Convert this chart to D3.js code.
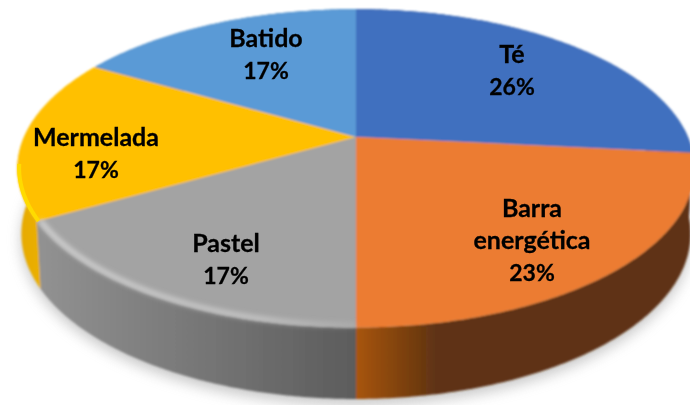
<!DOCTYPE html>
<html><head><meta charset="utf-8">
<script src="https://cdn.jsdelivr.net/npm/d3@7"></script>
<style>html,body{margin:0;padding:0;background:#fff;overflow:hidden}svg{display:block}</style>
</head><body><svg id="c" width="690" height="405"></svg>
<script>
const categories = ["Té","Barra energética","Pastel","Mermelada","Batido"];
// printed percentages
const percentLabels = ["26%","23%","17%","17%","17%"];
const sliceShares = [26.6,23.4,16.7,16.7,16.6];
const labelLines = [["Té"],["Barra","energética"],["Pastel"],["Mermelada"],["Batido"]];
const topColors = ["#4170bf","#ec7c30","#a3a3a3","#ffc000","#5a9ad6"];
const sideStops = [["#2c4f8c","#2c4f8c"],["#a85510","#5f3312"],["#929292","#5c5c5c"],["#e6a900","#f5c000"],["#3f76aa","#3f76aa"]];

// layout
const W=690,H=405,cx=356,cy=137,rx=332,ry=153,k=0.197,depth=64;
const labelPos=[[512,55],[532,209],[226,244],[96,138],[266,39]];
const lineH=32.5;

const svg=d3.select("#c");
const defs=svg.append("defs");
const blur=(id,s)=>defs.append("filter").attr("id",id).attr("x","-10%").attr("y","-10%").attr("width","120%").attr("height","130%")
  .append("feGaussianBlur").attr("stdDeviation",s);
blur("soft",0.8);blur("shadow",7);blur("bevel",2.5);blur("txt",0.35);

const arcs=d3.pie().sort(null).value(d=>d)(sliceShares);
const proj=(a,r=1,z=0)=>{
  const u=r*Math.sin(a),v=r*Math.cos(a),w=1+k*v;
  return [cx+rx*u/w*(1-z*0.012), cy-ry*v/w+z*depth/Math.sqrt(w)];
};
const line=d3.line();
const sample=(a0,a1)=>{const n=Math.max(2,Math.ceil((a1-a0)/0.01));return d3.range(n+1).map(i=>a0+(a1-a0)*i/n);};
const closed=pts=>d3.line().curve(d3.curveLinearClosed)(pts);
const open=pts=>d3.line().curve(d3.curveLinear)(pts);

// soft ground shadow
const outline=sample(0,2*Math.PI);
svg.append("path").attr("d",closed(outline.map(a=>{const p=proj(a,1,1);return [p[0],p[1]+6];})))
  .attr("fill","#9a9a9a").attr("opacity",0.55).attr("filter","url(#shadow)");

const g=svg.append("g").attr("filter","url(#soft)");

// side walls
arcs.forEach((d,i)=>{
  const as=sample(d.startAngle,d.endAngle);
  const topPts=as.map(a=>proj(a,1,0)), botPts=as.map(a=>proj(a,1,1));
  const xs=topPts.map(p=>p[0]);
  const id="side"+i;
  const grad=defs.append("linearGradient").attr("id",id).attr("gradientUnits","userSpaceOnUse")
    .attr("x1",i===1?cx:d3.min(xs)).attr("x2",i===1?cx+80:d3.max(xs)).attr("y1",0).attr("y2",0);
  grad.append("stop").attr("offset",0).attr("stop-color",sideStops[i][0]);
  grad.append("stop").attr("offset",1).attr("stop-color",sideStops[i][1]);
  g.append("path").attr("d",closed(topPts.concat(botPts.reverse()))).attr("fill",`url(#${id})`);
});

// top faces
arcs.forEach((d,i)=>{
  const pts=[[cx,cy]].concat(sample(d.startAngle,d.endAngle).map(a=>proj(a)));
  g.append("path").attr("d",closed(pts)).attr("fill",topColors[i]);
});

// bevel highlights on the front rim
const pastel=arcs[2], jam=arcs[3], bar=arcs[1];
const bev=svg.append("g");
const rimGrad=defs.append("linearGradient").attr("id","rimG").attr("gradientUnits","userSpaceOnUse")
  .attr("x1",40).attr("x2",cx).attr("y1",0).attr("y2",0);
rimGrad.append("stop").attr("offset",0).attr("stop-color","#d8d8d8").attr("stop-opacity",0.9);
rimGrad.append("stop").attr("offset",0.7).attr("stop-color","#d0d0d0").attr("stop-opacity",0.75);
rimGrad.append("stop").attr("offset",1).attr("stop-color","#c0c0c0").attr("stop-opacity",0.35);
bev.append("path").attr("d",open(sample(pastel.startAngle,pastel.endAngle).map(a=>proj(a,0.99))))
  .attr("fill","none").attr("stroke","url(#rimG)").attr("stroke-width",5).attr("filter","url(#bevel)");
bev.append("path").attr("d",open(sample(jam.startAngle,jam.startAngle+0.35).map(a=>proj(a,0.995))))
  .attr("fill","none").attr("stroke","#ffdb00").attr("stroke-width",4).attr("filter","url(#txt)");

// labels
const tg=svg.append("g").attr("font-family","Lato, Carlito, 'Open Sans', sans-serif").attr("font-weight",700)
  .attr("fill","#000").attr("text-anchor","middle").attr("stroke","#000").attr("stroke-width",0.3)
  .attr("filter","url(#txt)");
arcs.forEach((d,i)=>{
  const lines=labelLines[i].concat([percentLabels[i]]);
  lines.forEach((t,j)=>{
    tg.append("text").attr("x",labelPos[i][0]).attr("y",labelPos[i][1]+1.5+j*lineH)
      .attr("font-size",j===lines.length-1?23:25)
      .attr("dominant-baseline","middle").text(t);
  });
});
</script></body></html>
